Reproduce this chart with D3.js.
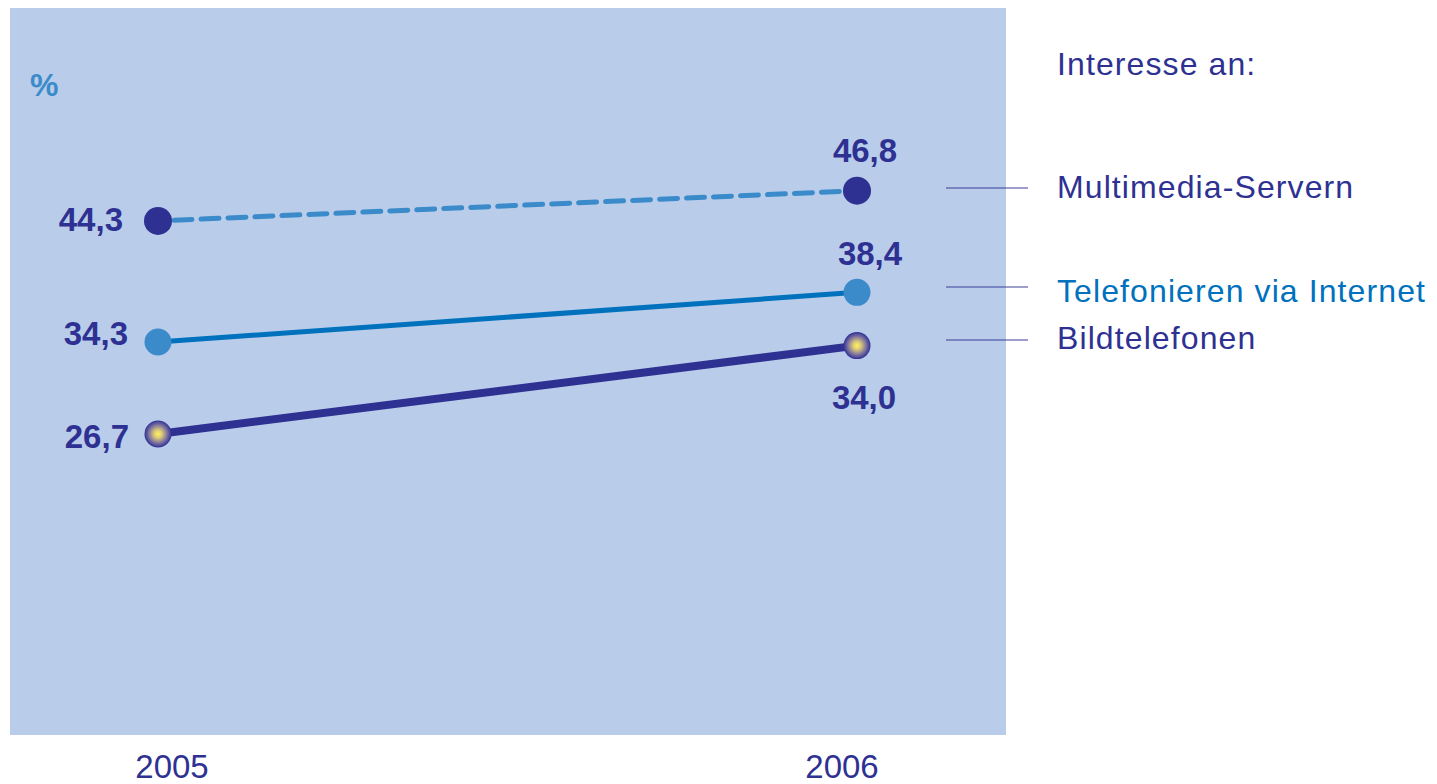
<!DOCTYPE html>
<html>
<head>
<meta charset="utf-8">
<script src="https://cdn.jsdelivr.net/npm/d3@7"></script>
<style>
  html, body { margin: 0; padding: 0; background: #ffffff; }
  svg { display: block; }
</style>
</head>
<body>
<svg id="chart" width="1437" height="784"></svg>
<script>
// Years on the x axis
const years = ["2005", "2006"];

// Share of respondents interested in each service (%)
const seriesNames = ["Multimedia-Servern", "Telefonieren via Internet", "Bildtelefonen"];
const multimediaValues = [44.3, 46.8];
const telefonValues = [34.3, 38.4];
const bildValues = [26.7, 34.0];

const legendTitle = "Interesse an:";
const unitLabel = "%";

// Visual style per series
const seriesStyles = [
  { line: "#3b8bca", width: 5, dash: "18 9", dot: "#2e3192", r: 14, legend: "#2e3192" },
  { line: "#0071bd", width: 5, dash: null, dot: "#3b8bca", r: 13.5, legend: "#0071bd" },
  { line: "#2e3192", width: 8, dash: null, dot: "url(#glow)", r: 13.5, legend: "#2e3192" }
];
// Value label offsets relative to each point [start, end]
const labelOffsets = [
  [{ dx: -35, dy: 10, anchor: "end" }, { dx: 8, dy: -29, anchor: "middle" }],
  [{ dx: -30, dy: 3, anchor: "end" }, { dx: 13, dy: -27, anchor: "middle" }],
  [{ dx: -29, dy: 14, anchor: "end" }, { dx: 7, dy: 63, anchor: "middle" }]
];

const series = seriesNames.map((name, i) => ({
  name,
  values: [multimediaValues, telefonValues, bildValues][i],
  style: seriesStyles[i],
  offsets: labelOffsets[i]
}));

const svg = d3.select("#chart");
const navy = "#2e3192";
const labelFont = "'Liberation Sans', Arial, sans-serif";

// Plot area
const plot = { x0: 10, x1: 1006, y0: 8, y1: 735 };

const defs = svg.append("defs");
const grad = defs.append("radialGradient").attr("id", "glow")
  .attr("cx", "50%").attr("cy", "50%").attr("r", "50%");
grad.append("stop").attr("offset", "0%").attr("stop-color", "#fff45a");
grad.append("stop").attr("offset", "30%").attr("stop-color", "#d9c879");
grad.append("stop").attr("offset", "70%").attr("stop-color", "#7a6fa0");
grad.append("stop").attr("offset", "100%").attr("stop-color", "#2e3192");

svg.append("rect")
  .attr("x", plot.x0).attr("y", plot.y0)
  .attr("width", plot.x1 - plot.x0).attr("height", plot.y1 - plot.y0)
  .attr("fill", "#b9cdea");

const x = d3.scalePoint().domain(years).range([158, 857]);
const xAxisScale = d3.scalePoint().domain(years).range([172, 842]);
const y = d3.scaleLinear().domain([0, 50]).range([757, 152]);

// Unit label
svg.append("text")
  .attr("x", 30).attr("y", 96)
  .attr("font-family", labelFont).attr("font-weight", "bold")
  .attr("font-size", 32).attr("fill", "#3b8bca")
  .text(unitLabel);

// Year labels
svg.append("g").selectAll("text").data(years).join("text")
  .attr("x", d => xAxisScale(d)).attr("y", 778)
  .attr("text-anchor", "middle")
  .attr("font-family", labelFont).attr("font-size", 33)
  .attr("fill", navy)
  .text(d => d);

const line = d3.line().x((d, i) => x(years[i])).y(d => y(d));

// Lines
svg.append("g").selectAll("path").data(series).join("path")
  .attr("d", s => line(s.values))
  .attr("fill", "none")
  .attr("stroke", s => s.style.line)
  .attr("stroke-width", s => s.style.width)
  .attr("stroke-linecap", s => s.style.dash ? "round" : "butt")
  .attr("stroke-dasharray", s => s.style.dash)
  .attr("stroke-dashoffset", s => s.style.dash ? -16 : null);

// Points
const pts = series.flatMap(s => s.values.map((v, i) => ({ s, v, i })));
svg.append("g").selectAll("circle").data(pts).join("circle")
  .attr("cx", d => x(years[d.i]))
  .attr("cy", d => y(d.v))
  .attr("r", d => d.s.style.r)
  .attr("fill", d => d.s.style.dot);

// Value labels
svg.append("g").selectAll("text").data(pts).join("text")
  .attr("x", d => x(years[d.i]) + d.s.offsets[d.i].dx)
  .attr("y", d => y(d.v) + d.s.offsets[d.i].dy)
  .attr("text-anchor", d => d.s.offsets[d.i].anchor)
  .attr("font-family", labelFont).attr("font-weight", "bold")
  .attr("font-size", 33).attr("fill", navy)
  .text(d => d3.format(".1f")(d.v).replace(".", ","));

// Legend
const legendX = 1057;
svg.append("text")
  .attr("x", legendX).attr("y", 75)
  .attr("font-family", labelFont).attr("font-size", 32)
  .attr("letter-spacing", 1.1)
  .attr("fill", navy).text(legendTitle);

const legendY = [198, 302, 349];
const leaderY = [188, 287, 340];
const lg = svg.append("g").selectAll("g").data(series).join("g");
lg.append("line")
  .attr("x1", 946).attr("x2", 1028)
  .attr("y1", (d, i) => leaderY[i]).attr("y2", (d, i) => leaderY[i])
  .attr("stroke", "#3b3e98").attr("stroke-width", 1.2);
lg.append("text")
  .attr("x", legendX).attr("y", (d, i) => legendY[i])
  .attr("font-family", labelFont).attr("font-size", 32)
  .attr("letter-spacing", 1.1)
  .attr("fill", d => d.style.legend)
  .text(d => d.name);
</script>
</body>
</html>
